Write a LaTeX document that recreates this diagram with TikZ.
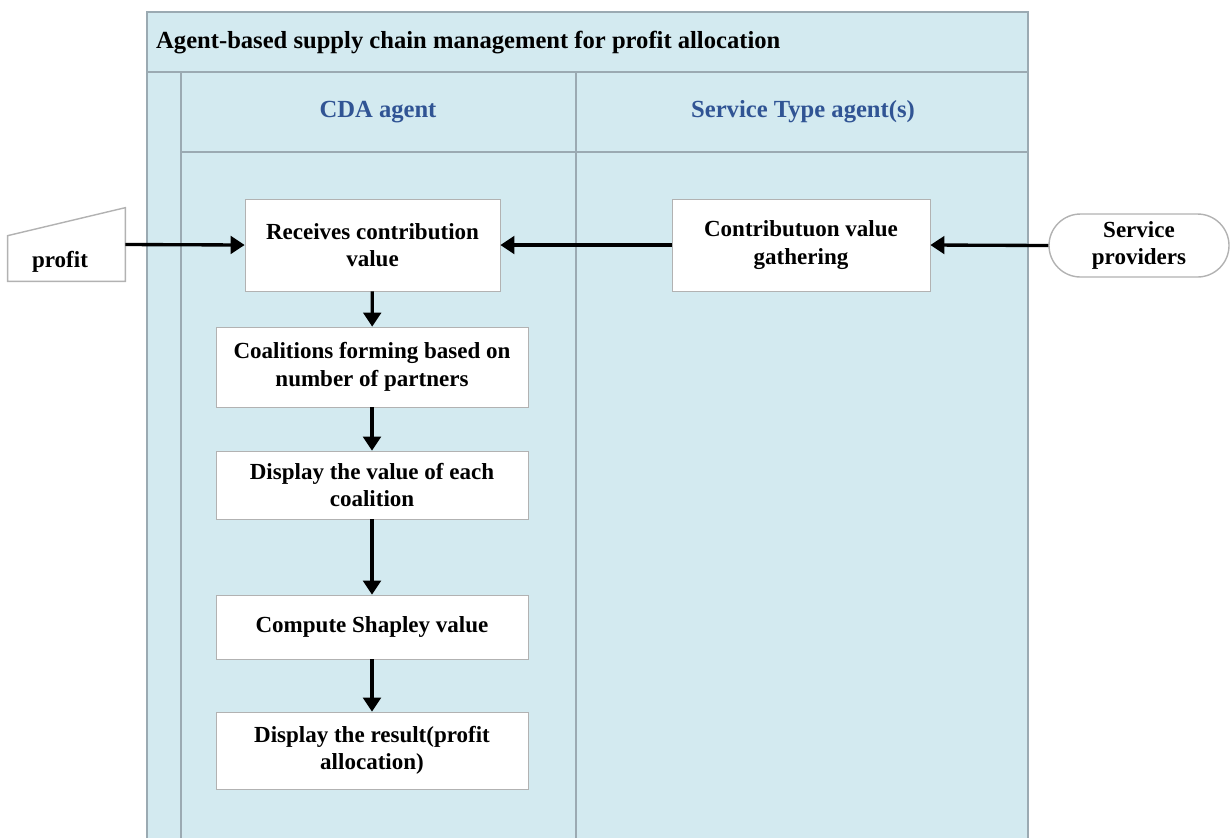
\documentclass[tikz,border=0pt]{standalone}
\usepackage{fontspec}
\setmainfont{Liberation Serif}
\usetikzlibrary{arrows.meta,calc,shadows}

\definecolor{lanefill}{RGB}{211,234,240}
\definecolor{laneline}{RGB}{155,170,178}
\definecolor{headblue}{RGB}{48,84,148}

\tikzset{
  stepbox/.style={draw=gray!60,fill=white,align=center,inner sep=2pt,
    font=\fontsize{13.1}{15.6}\selectfont\bfseries,
    drop shadow={shadow xshift=0.6pt,shadow yshift=-0.6pt,opacity=0.35}},
  lanehead/.style={text=headblue,font=\fontsize{14}{16}\selectfont\bfseries},
  flow/.style={->,line width=1.9pt}
}

\begin{document}
\begin{tikzpicture}[>={Triangle[length=8pt,width=10pt]}]
  \useasboundingbox (0,0) rectangle (24.6,-16.76);

  % pool and lanes
  \fill[lanefill] (2.94,-0.24) rectangle (20.56,-16.76);
  \draw[laneline,line width=0.9pt] (2.94,-16.76)--(2.94,-0.24)--(20.56,-0.24)--(20.56,-16.76);
  \draw[laneline,line width=0.9pt] (2.94,-1.44)--(20.56,-1.44);
  \draw[laneline,line width=0.9pt] (3.62,-3.04)--(20.56,-3.04);
  \draw[laneline,line width=0.9pt] (3.62,-1.44)--(3.62,-16.76);
  \draw[laneline,line width=0.9pt] (11.52,-1.44)--(11.52,-16.76);

  \node[anchor=west,font=\fontsize{14}{16}\selectfont\bfseries] (title) at (3.0,-0.86)
    {Agent-based supply chain management for profit allocation};
  \node[lanehead] (cda) at (7.56,-2.24) {CDA agent};
  \node[lanehead] (sta) at (16.06,-2.24) {Service Type agent(s)};

  % CDA agent steps
  \node[stepbox,minimum width=5.1cm,minimum height=1.84cm] (recv) at (7.45,-4.9)
    {Receives contribution\\value};
  \node[stepbox,minimum width=6.24cm,minimum height=1.6cm] (coal) at (7.44,-7.34)
    {Coalitions forming based on\\number of partners};
  \node[stepbox,minimum width=6.24cm,minimum height=1.36cm] (disp) at (7.44,-9.7)
    {Display the value of each\\coalition};
  \node[stepbox,minimum width=6.24cm,minimum height=1.28cm] (shap) at (7.44,-12.54)
    {Compute Shapley value};
  \node[stepbox,minimum width=6.24cm,minimum height=1.54cm] (res) at (7.44,-15.01)
    {Display the result(profit\\allocation)};

  % service type agent
  \node[stepbox,minimum width=5.16cm,minimum height=1.84cm] (gath) at (16.02,-4.9)
    {Contributuon value\\gathering};

  % outside the pool
  \node[minimum width=2.34cm,minimum height=1.46cm] (profit) at (1.33,-4.89) {};
  \draw[gray!60,line width=0.8pt,fill=white] (profit.south west)--(profit.south east)
    --(profit.north east)--($(profit.north west)+(0,-0.56)$)--cycle;
  \node[font=\fontsize{13.1}{15.6}\selectfont\bfseries] (profittxt) at (1.2,-5.24) {profit};

  \node[draw=gray!60,line width=0.8pt,fill=white,rounded corners=0.63cm,align=center,
    minimum width=3.6cm,minimum height=1.26cm,
    font=\fontsize{13.1}{15.6}\selectfont\bfseries] (prov) at (22.78,-4.91)
    {Service\\providers};

  % connectors
  \draw[flow] (profit.east) -- (recv.west);
  \draw[flow] (gath.west) -- (recv.east);
  \draw[flow] (prov.west) -- (gath.east);
  \draw[flow] (recv) -- (coal);
  \draw[flow] (coal) -- (disp);
  \draw[flow] (disp) -- (shap);
  \draw[flow] (shap) -- (res);
\end{tikzpicture}
\end{document}
